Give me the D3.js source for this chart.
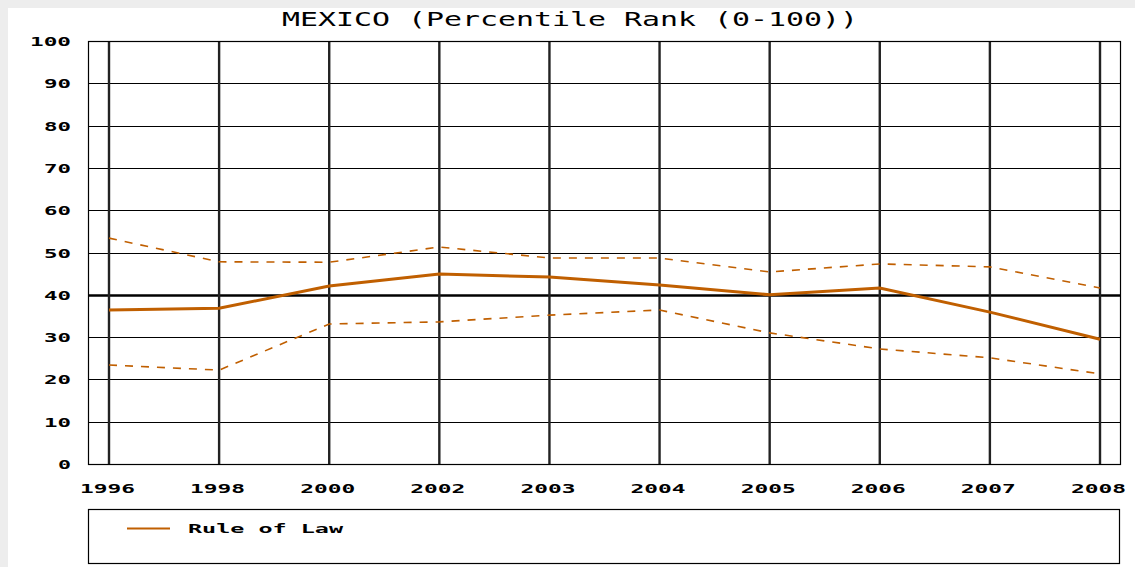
<!DOCTYPE html>
<html>
<head>
<meta charset="utf-8">
<script src="https://cdn.jsdelivr.net/npm/d3@7"></script>
<style>
  html, body { margin: 0; padding: 0; background: #fff; }
  svg { display: block; }
</style>
</head>
<body>
<div id="svg-container"></div>
<script>
// chart data
const years = ['1996', '1998', '2000', '2002', '2003', '2004', '2005', '2006', '2007', '2008']
const ruleOfLaw = [36.4, 36.8, 42.1, 44.9, 44.2, 42.3, 40.0, 41.6, 35.9, 29.5]
const upperBound = [53.4, 47.8, 47.7, 51.3, 48.7, 48.7, 45.4, 47.3, 46.6, 41.6]
const lowerBound = [23.4, 22.2, 33.1, 33.6, 35.2, 36.4, 31.0, 27.2, 25.1, 21.3]
const yTicks = [0, 10, 20, 30, 40, 50, 60, 70, 80, 90, 100]
const title = 'MEXICO (Percentile Rank (0-100))'
const seriesName = 'Rule of Law'

const width = 1135
const height = 567
const plot = { left: 88, right: 1120, top: 41, bottom: 464 }
const lineColor = '#c05f00'
const font = "'DejaVu Sans Mono', 'Liberation Mono', monospace"

const svg = d3
  .select('#svg-container')
  .append('svg')
  .attr('width', width)
  .attr('height', height)

// light grey edge at top / left like the screenshot
svg.append('rect').attr('width', width).attr('height', height).attr('fill', '#ededed')
svg.append('rect').attr('x', 8).attr('y', 8).attr('width', width - 8).attr('height', height - 8).attr('fill', '#fff')

const xScale = d3.scalePoint().domain(years).range([109, 1100])
const yScale = d3.scaleLinear().domain([0, 100]).range([plot.bottom, plot.top])

// title, stretched to mimic the wide pixel font
svg
  .append('text')
  .attr('x', 282)
  .attr('y', 26)
  .attr('textLength', 576)
  .attr('lengthAdjust', 'spacingAndGlyphs')
  .style('font-family', font)
  .style('font-size', '19px')
  .attr('fill', '#000')
  .text(title)

const grid = svg.append('g')

// horizontal grid lines
grid
  .selectAll('.hline')
  .data(yTicks)
  .join('line')
  .attr('x1', plot.left)
  .attr('x2', plot.right)
  .attr('y1', d => Math.round(yScale(d)) + 0.5)
  .attr('y2', d => Math.round(yScale(d)) + 0.5)
  .attr('stroke', '#000')
  .attr('stroke-width', d => (d === 40 ? 2.5 : 1.2))

// vertical grid lines at each year
grid
  .selectAll('.vline')
  .data(years)
  .join('line')
  .attr('x1', d => xScale(d))
  .attr('x2', d => xScale(d))
  .attr('y1', plot.top)
  .attr('y2', plot.bottom)
  .attr('stroke', '#222')
  .attr('stroke-width', 2.4)

// plot frame
svg
  .append('rect')
  .attr('x', plot.left + 0.5)
  .attr('y', plot.top + 0.5)
  .attr('width', plot.right - plot.left)
  .attr('height', plot.bottom - plot.top)
  .attr('fill', 'none')
  .attr('stroke', '#000')
  .attr('stroke-width', 1.2)

// y tick labels
svg
  .selectAll('.ylab')
  .data(yTicks)
  .join('text')
  .attr('x', d => 72 - String(d).length * 14)
  .attr('y', d => yScale(d) + 5)
  .attr('textLength', d => String(d).length * 14 - 1)
  .attr('lengthAdjust', 'spacingAndGlyphs')
  .style('font-family', font)
  .style('font-size', '13px')
  .style('font-weight', 'bold')
  .text(d => d)

// x tick labels
svg
  .selectAll('.xlab')
  .data(years)
  .join('text')
  .attr('x', d => xScale(d) - 29)
  .attr('y', 493)
  .attr('textLength', 55)
  .attr('lengthAdjust', 'spacingAndGlyphs')
  .style('font-family', font)
  .style('font-size', '13px')
  .style('font-weight', 'bold')
  .text(d => d)

const line = d3
  .line()
  .x((d, i) => xScale(years[i]))
  .y(d => yScale(d))

// confidence bounds (dashed)
svg
  .selectAll('.bound')
  .data([upperBound, lowerBound])
  .join('path')
  .attr('d', line)
  .attr('fill', 'none')
  .attr('stroke', lineColor)
  .attr('stroke-width', 1.6)
  .attr('stroke-dasharray', '8,8')

// main series
svg
  .append('path')
  .datum(ruleOfLaw)
  .attr('d', line)
  .attr('fill', 'none')
  .attr('stroke', lineColor)
  .attr('stroke-width', 3)

// legend box
const legend = svg.append('g')
legend
  .append('rect')
  .attr('x', plot.left + 0.5)
  .attr('y', 509.5)
  .attr('width', plot.right - plot.left - 1)
  .attr('height', 54)
  .attr('fill', '#fff')
  .attr('stroke', '#000')
  .attr('stroke-width', 1.2)
legend
  .append('line')
  .attr('x1', 127)
  .attr('x2', 170)
  .attr('y1', 528.5)
  .attr('y2', 528.5)
  .attr('stroke', lineColor)
  .attr('stroke-width', 2)
legend
  .append('text')
  .attr('x', 188)
  .attr('y', 533)
  .attr('textLength', 155)
  .attr('lengthAdjust', 'spacingAndGlyphs')
  .style('font-family', font)
  .style('font-size', '13px')
  .style('font-weight', 'bold')
  .text(seriesName)
</script>
</body>
</html>
